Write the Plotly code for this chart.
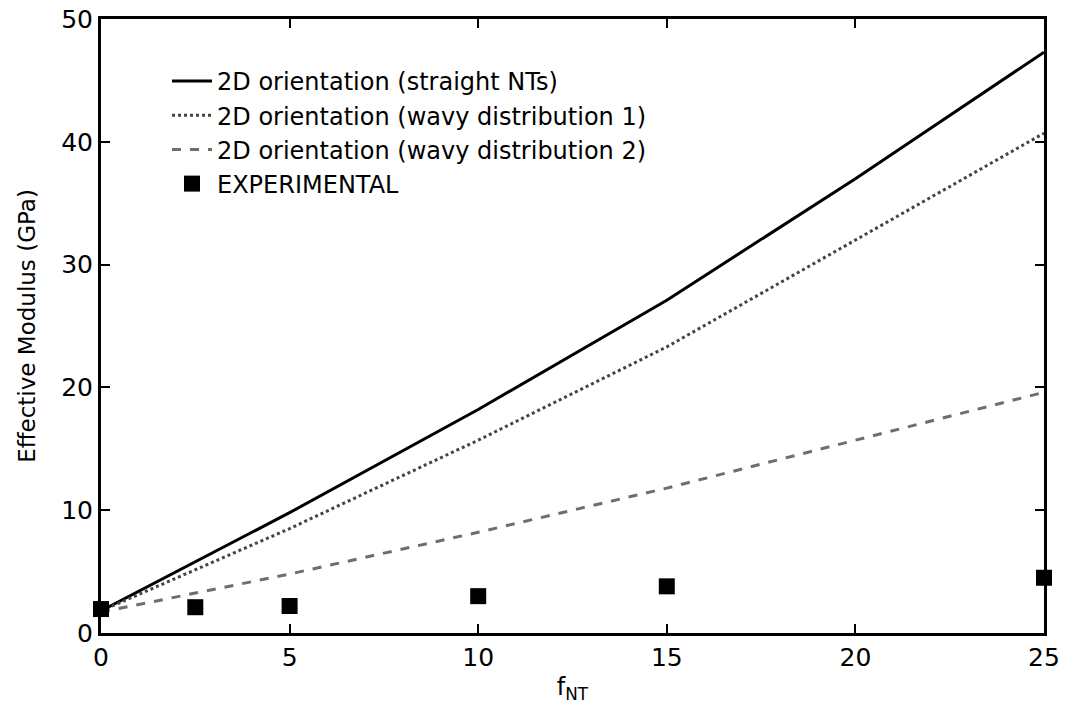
import plotly.graph_objects as go

x_model = [0, 5, 10, 15, 20, 25]
straight = [1.8, 9.8, 18.2, 27.1, 37.0, 47.3]
wavy1 = [1.8, 8.5, 15.7, 23.3, 32.0, 40.7]
wavy2 = [1.7, 4.8, 8.2, 11.8, 15.7, 19.6]

x_exp = [0, 2.5, 5, 10, 15, 25]
y_exp = [1.95, 2.1, 2.2, 3.0, 3.8, 4.5]

font = "DejaVu Sans"

fig = go.Figure()
fig.add_trace(go.Scatter(x=x_model, y=straight, mode="lines",
                         name="2D orientation (straight NTs)",
                         line=dict(color="black", width=3)))
fig.add_trace(go.Scatter(x=x_model, y=wavy1, mode="lines",
                         name="2D orientation (wavy distribution 1)",
                         line=dict(color="#444444", width=3, dash="dot")))
fig.add_trace(go.Scatter(x=x_model, y=wavy2, mode="lines",
                         name="2D orientation (wavy distribution 2)",
                         line=dict(color="#6e6e6e", width=3, dash="dash")))
fig.add_trace(go.Scatter(x=x_exp, y=y_exp, mode="markers",
                         name="EXPERIMENTAL",
                         marker=dict(symbol="square", size=16, color="black"),
                         cliponaxis=False))

axis_common = dict(showline=True, linecolor="black", linewidth=3, mirror="allticks",
                   ticks="inside", ticklen=9, tickwidth=2, tickcolor="black",
                   showgrid=False, zeroline=False, automargin=False,
                   ticklabeloverflow="allow",
                   tickfont=dict(family=font, size=25, color="black"))

fig.update_layout(
    width=1067, height=712,
    margin=dict(l=101, r=23, t=19, b=79),
    paper_bgcolor="white", plot_bgcolor="white",
    font=dict(family=font, color="black"),
    showlegend=True,
    legend=dict(x=0.07, y=0.935, xanchor="left", yanchor="top",
                bgcolor="rgba(0,0,0,0)", font=dict(family=font, size=24, color="black"),
                tracegroupgap=0, itemwidth=40),
    xaxis=dict(range=[0, 25], tickvals=[0, 5, 10, 15, 20, 25],
               title=dict(text="f<sub>NT</sub>", font=dict(family=font, size=24), standoff=8),
               **axis_common),
    yaxis=dict(range=[0, 50], tickvals=[0, 10, 20, 30, 40, 50],
               title=dict(text="Effective Modulus (GPa)", font=dict(family=font, size=23), standoff=20),
               **axis_common),
)

fig.write_html("out.html", config={"displayModeBar": False},
               post_script="document.body.style.margin='0';document.body.style.overflow='hidden';")
